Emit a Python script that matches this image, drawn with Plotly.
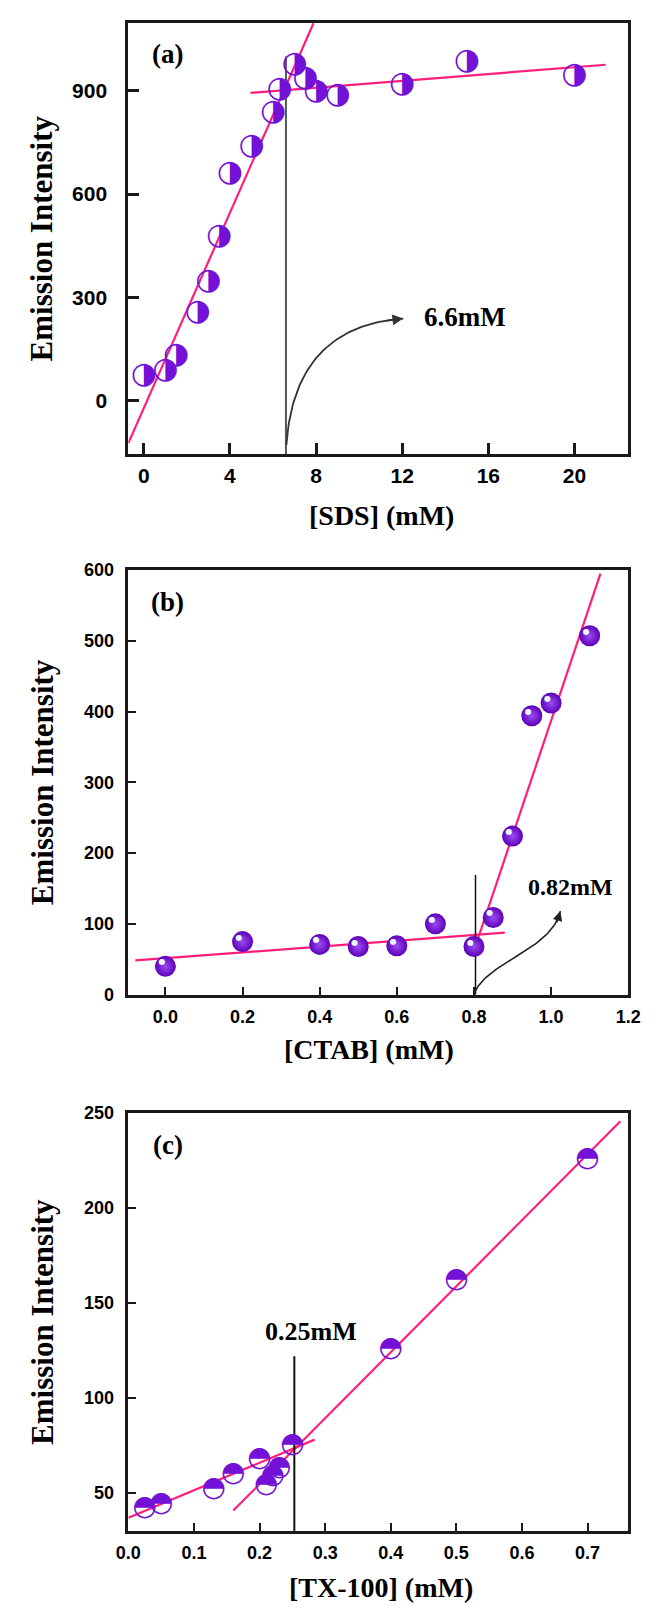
import plotly.graph_objects as go

# ---------------- data ----------------
# (a) SDS
sds_x = [0, 1, 1.5, 2.5, 3, 3.5, 4, 5, 6, 6.3, 7, 7.5, 8, 9, 12, 15, 20]
sds_y = [72, 86, 130, 256, 346, 478, 660, 738, 836, 903, 977, 935, 898, 888, 919, 986, 944]
sds_fit1 = dict(m=142, b=-22, x=[-0.72, 7.88])
sds_fit2 = dict(m=4.95, b=870, x=[4.95, 21.45])
sds_cmc = 6.6
sds_cmc_line_y = [-157, 1000]
sds_arrow = [(6.62, -129), (7.0, 215), (12.05, 238)]      # quadratic Bezier control points
sds_label = "6.6mM"
sds_label_pos = (14.9, 243)

# (b) CTAB
ctab_x = [0, 0.2, 0.4, 0.5, 0.6, 0.7, 0.8, 0.85, 0.9, 0.95, 1.0, 1.1]
ctab_y = [40, 75, 71, 68, 69, 100, 68, 109, 224, 394, 412, 507]
ctab_fit1 = dict(m=41, b=51.5, x=[-0.078, 0.88])
ctab_fit2 = dict(m=1624, b=-1237, x=[0.804, 1.128])
ctab_cmc = 0.804
ctab_cmc_line_y = [0, 169]
ctab_arrow = [(0.80, 1), (0.835, 48), (1.0, 62), (1.024, 118)]  # cubic Bezier control points
ctab_label = "0.82mM"
ctab_label_pos = (1.05, 152)

# (c) TX-100
tx_x = [0.025, 0.05, 0.13, 0.16, 0.2, 0.21, 0.22, 0.23, 0.25, 0.4, 0.5, 0.7]
tx_y = [42, 44, 52, 60, 68, 54, 59, 63, 75, 126, 162, 226]
tx_fit1 = dict(m=145, b=36.9, x=[0.0, 0.284])
tx_fit2 = dict(m=347.5, b=-14.9, x=[0.16, 0.75])
tx_cmc = 0.253
tx_cmc_line_y = [30, 122]
tx_label = "0.25mM"
tx_label_pos = (0.278, 135)

x_ticks_a = [0, 4, 8, 12, 16, 20]
y_ticks_a = [0, 300, 600, 900]
x_ticks_b = [0.0, 0.2, 0.4, 0.6, 0.8, 1.0, 1.2]
y_ticks_b = [0, 100, 200, 300, 400, 500, 600]
x_ticks_c = [0.0, 0.1, 0.2, 0.3, 0.4, 0.5, 0.6, 0.7]
y_ticks_c = [50, 100, 150, 200, 250]

# ---------------- style ----------------
W, H = 672, 1614
PINK = "#FF1F7A"
PURPLE = "#7312D6"
SERIF = "Liberation Serif"
SANS = "Liberation Sans"

def py(p):
    return 1 - p / H

def px(p):
    return p / W

boxes = {
    "a": (13, 450, [-0.72, 22.5], [-157, 1098]),
    "b": (567, 997, [-0.096, 1.2], [0, 600]),
    "c": (1117, 1540, [0.0, 0.762], [30, 250]),
}

fig = go.Figure()

def fit_trace(fit, xa, ya):
    xs = fit["x"]
    ys = [fit["m"] * v + fit["b"] for v in xs]
    return go.Scatter(x=xs, y=ys, mode="lines", line=dict(color=PINK, width=2.2),
                      xaxis=xa, yaxis=ya, hoverinfo="skip", showlegend=False)

def bez(pts, n=60):
    out_x, out_y = [], []
    for i in range(n + 1):
        t = i / n
        if len(pts) == 3:
            c = [(1 - t) ** 2, 2 * (1 - t) * t, t ** 2]
        else:
            c = [(1 - t) ** 3, 3 * (1 - t) ** 2 * t, 3 * (1 - t) * t ** 2, t ** 3]
        out_x.append(sum(ci * p[0] for ci, p in zip(c, pts)))
        out_y.append(sum(ci * p[1] for ci, p in zip(c, pts)))
    return out_x, out_y

# ---- (a)
fig.add_trace(fit_trace(sds_fit1, "x", "y"))
fig.add_trace(fit_trace(sds_fit2, "x", "y"))
fig.add_trace(go.Scatter(x=[sds_cmc, sds_cmc], y=sds_cmc_line_y, mode="lines",
                         line=dict(color="#555555", width=2), xaxis="x", yaxis="y", showlegend=False))
bx, by = bez(sds_arrow)
fig.add_trace(go.Scatter(x=bx, y=by, mode="lines", line=dict(color="#333333", width=1.8),
                         xaxis="x", yaxis="y", showlegend=False))
fig.add_trace(go.Scatter(x=sds_x, y=sds_y, mode="text", text=["\u25D1"] * len(sds_x),
                         textposition="middle center",
                         textfont=dict(family="DejaVu Sans", size=30, color=PURPLE),
                         xaxis="x", yaxis="y", showlegend=False))

# ---- (b)
fig.add_trace(fit_trace(ctab_fit1, "x2", "y2"))
fig.add_trace(fit_trace(ctab_fit2, "x2", "y2"))
fig.add_trace(go.Scatter(x=[ctab_cmc, ctab_cmc], y=ctab_cmc_line_y, mode="lines",
                         line=dict(color="#111111", width=1.5), xaxis="x2", yaxis="y2", showlegend=False))
bx, by = bez(ctab_arrow)
fig.add_trace(go.Scatter(x=bx, y=by, mode="lines", line=dict(color="#222222", width=1.6),
                         xaxis="x2", yaxis="y2", showlegend=False))
fig.add_trace(go.Scatter(x=ctab_x, y=ctab_y, mode="markers",
                         marker=dict(symbol="circle", size=21, color="#5E00B8",
                                     gradient=dict(type="radial", color="#9A4CF2"),
                                     line=dict(width=0)),
                         xaxis="x2", yaxis="y2", showlegend=False))
fig.add_trace(go.Scatter(x=ctab_x, y=ctab_y, mode="text", text=["\u25CF"] * len(ctab_x),
                         textposition="top left",
                         textfont=dict(family="DejaVu Sans", size=8, color="#EAF6FF"),
                         xaxis="x2", yaxis="y2", showlegend=False))

# ---- (c)
fig.add_trace(fit_trace(tx_fit1, "x3", "y3"))
fig.add_trace(fit_trace(tx_fit2, "x3", "y3"))
fig.add_trace(go.Scatter(x=[tx_cmc, tx_cmc], y=tx_cmc_line_y, mode="lines",
                         line=dict(color="#111111", width=2), xaxis="x3", yaxis="y3", showlegend=False))
fig.add_trace(go.Scatter(x=tx_x, y=tx_y, mode="text", text=["\u25D3"] * len(tx_x),
                         textposition="middle center",
                         textfont=dict(family="DejaVu Sans", size=28, color=PURPLE),
                         xaxis="x3", yaxis="y3", showlegend=False))

# ---------------- axes ----------------
def axis_common(lw, tlen, tw, tsize, standoff):
    return dict(showline=True, linecolor="#1a1a1a", linewidth=lw, mirror=True,
                ticks="inside", ticklen=tlen, tickwidth=tw, tickcolor="#1a1a1a",
                showgrid=False, zeroline=False,
                tickfont=dict(family=SANS, size=tsize, color="black", weight="bold"),
                ticklabelstandoff=standoff)

layout = dict(width=W, height=H, margin=dict(l=0, r=0, t=0, b=0),
              paper_bgcolor="white", plot_bgcolor="white", showlegend=False)

xdom = [px(120), px(640)]
names = [("a", "xaxis", "yaxis", "y", "x", x_ticks_a, y_ticks_a, 3, 11, 3, 21, 0, 14),
         ("b", "xaxis2", "yaxis2", "y2", "x2", x_ticks_b, y_ticks_b, 2.5, 8, 2, 18, 4, 8),
         ("c", "xaxis3", "yaxis3", "y3", "x3", x_ticks_c, y_ticks_c, 2.5, 8, 2, 18, 4, 8)]
for key, xk, yk, yanchor, xanchor, xt, yt, lw, tlen, tw, ts, xso, yso in names:
    top, bot, xr, yr = boxes[key]
    fmt = (lambda v: f"{v:.1f}") if key != "a" else (lambda v: f"{v:g}")
    layout[xk] = dict(domain=xdom, range=xr, anchor=yanchor, tickvals=xt,
                      ticktext=[fmt(v) for v in xt], **axis_common(lw, tlen, tw, ts, xso))
    layout[yk] = dict(domain=[py(bot), py(top)], range=yr, anchor=xanchor, tickvals=yt,
                      ticktext=[f"{v:g}" for v in yt],
                      **axis_common(lw, tlen, tw, ts, yso))

fig.update_layout(**layout)

# ---------------- annotations ----------------
ann = []
serif_b = dict(family=SERIF, color="black", weight="bold")
C = dict(xanchor="center", yanchor="middle", showarrow=False)
for key, xr_, yr_ in [("a", "x", "y"), ("b", "x2", "y2"), ("c", "x3", "y3")]:
    top, bot, _, _ = boxes[key]
    ann.append(dict(text=f"({key})", xref="paper", yref="paper",
                    x=px(161), y=py(top + 32), font=dict(size=27, **serif_b), **C))
    ann.append(dict(text="Emission Intensity", xref="paper", yref="paper",
                    x=px(30), y=py((top + bot) / 2), textangle=-90,
                    font=dict(size=31, **serif_b), **C))

ann.append(dict(text="[SDS] (mM)", xref="paper", yref="paper", x=px(383), y=py(512),
                font=dict(size=28, **serif_b), **C))
ann.append(dict(text="[CTAB] (mM)", xref="paper", yref="paper", x=px(370), y=py(1053),
                font=dict(size=28, **serif_b), **C))
ann.append(dict(text="[TX-100] (mM)", xref="paper", yref="paper", x=px(383), y=py(1597),
                font=dict(size=28, **serif_b), **C))

ann.append(dict(text=sds_label, x=sds_label_pos[0], y=sds_label_pos[1], xref="x", yref="y",
                font=dict(size=27, **serif_b), **C))
ann.append(dict(text=ctab_label, x=ctab_label_pos[0], y=ctab_label_pos[1], xref="x2", yref="y2",
                font=dict(size=24, **serif_b), **C))
ann.append(dict(text=tx_label, x=tx_label_pos[0], y=tx_label_pos[1], xref="x3", yref="y3",
                font=dict(size=26, **serif_b), **C))

# arrowheads
p_end = sds_arrow[-1]
ann.append(dict(x=p_end[0], y=p_end[1], ax=p_end[0] - 0.8, ay=p_end[1] - 6, xref="x", yref="y",
                axref="x", ayref="y", showarrow=True, arrowhead=2, arrowsize=1.2,
                arrowwidth=1.8, arrowcolor="#333333", text=""))
p_end = ctab_arrow[-1]
ann.append(dict(x=p_end[0], y=p_end[1], ax=p_end[0] - 0.01, ay=p_end[1] - 18, xref="x2", yref="y2",
                axref="x2", ayref="y2", showarrow=True, arrowhead=2, arrowsize=1.2,
                arrowwidth=1.6, arrowcolor="#222222", text=""))

fig.update_layout(annotations=ann)
fig.write_html("out.html")
